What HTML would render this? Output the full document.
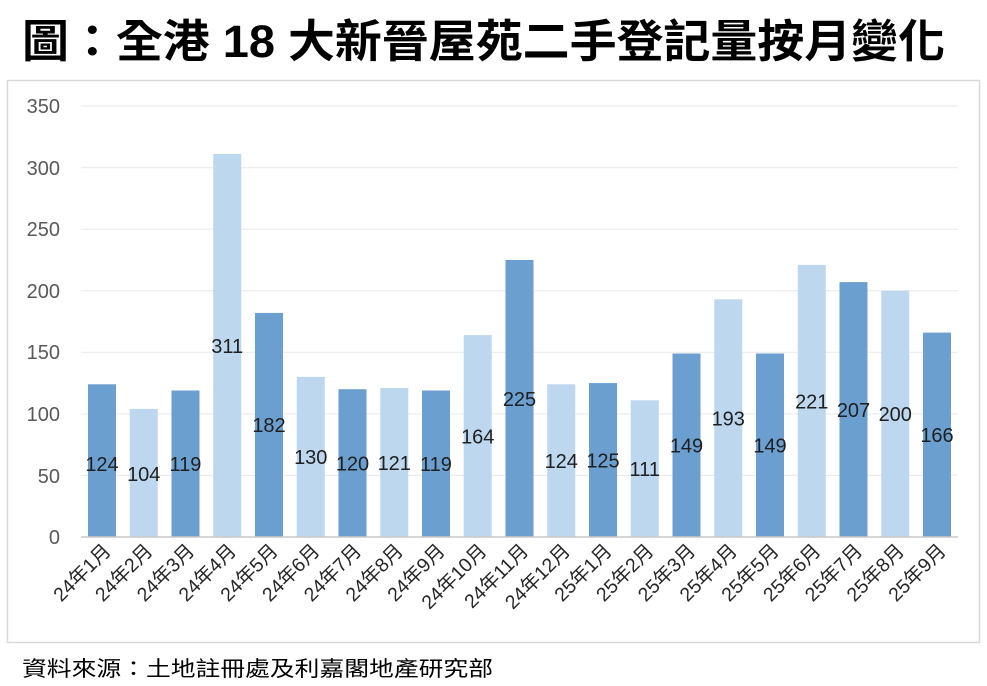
<!DOCTYPE html>
<html><head><meta charset="utf-8"><style>
html,body{margin:0;padding:0;background:#fff;}
svg{display:block;}
</style></head><body>
<svg width="987" height="686" viewBox="0 0 987 686" xmlns="http://www.w3.org/2000/svg" font-family="'Liberation Sans','Noto Sans CJK TC',sans-serif">
<rect width="987" height="686" fill="#fff"/>
<text x="22" y="57" font-size="45" font-weight="bold" fill="#000" textLength="923" lengthAdjust="spacingAndGlyphs">圖：全港 18 大新晉屋苑二手登記量按月變化</text>
<rect x="7.5" y="80.5" width="972" height="562" fill="#fff" stroke="#d9d9d9" stroke-width="1.5"/>
<g stroke="#ececec" stroke-width="1.2">
<line x1="81" x2="958" y1="106" y2="106"/><line x1="81" x2="958" y1="167.6" y2="167.6"/><line x1="81" x2="958" y1="229.1" y2="229.1"/><line x1="81" x2="958" y1="290.7" y2="290.7"/><line x1="81" x2="958" y1="352.3" y2="352.3"/><line x1="81" x2="958" y1="413.9" y2="413.9"/><line x1="81" x2="958" y1="475.4" y2="475.4"/>
</g>
<g font-size="20" fill="#595959" text-anchor="end">
<text x="60" y="113">350</text><text x="60" y="175">300</text><text x="60" y="236">250</text><text x="60" y="298">200</text><text x="60" y="359">150</text><text x="60" y="421">100</text><text x="60" y="483">50</text><text x="60" y="544">0</text>
</g>
<g>
<rect x="88" y="384.3" width="28" height="152.7" fill="#6b9fd0"/>
<rect x="129.75" y="408.9" width="28" height="128.1" fill="#bdd7ee"/>
<rect x="171.5" y="390.5" width="28" height="146.5" fill="#6b9fd0"/>
<rect x="213.25" y="154" width="28" height="383" fill="#bdd7ee"/>
<rect x="255" y="312.9" width="28" height="224.1" fill="#6b9fd0"/>
<rect x="296.75" y="376.9" width="28" height="160.1" fill="#bdd7ee"/>
<rect x="338.5" y="389.2" width="28" height="147.8" fill="#6b9fd0"/>
<rect x="380.25" y="388" width="28" height="149" fill="#bdd7ee"/>
<rect x="422" y="390.5" width="28" height="146.5" fill="#6b9fd0"/>
<rect x="463.75" y="335.1" width="28" height="201.9" fill="#bdd7ee"/>
<rect x="505.5" y="259.9" width="28" height="277.1" fill="#6b9fd0"/>
<rect x="547.25" y="384.3" width="28" height="152.7" fill="#bdd7ee"/>
<rect x="589" y="383.1" width="28" height="153.9" fill="#6b9fd0"/>
<rect x="630.75" y="400.3" width="28" height="136.7" fill="#bdd7ee"/>
<rect x="672.5" y="353.5" width="28" height="183.5" fill="#6b9fd0"/>
<rect x="714.25" y="299.3" width="28" height="237.7" fill="#bdd7ee"/>
<rect x="756" y="353.5" width="28" height="183.5" fill="#6b9fd0"/>
<rect x="797.75" y="264.9" width="28" height="272.1" fill="#bdd7ee"/>
<rect x="839.5" y="282.1" width="28" height="254.9" fill="#6b9fd0"/>
<rect x="881.25" y="290.7" width="28" height="246.3" fill="#bdd7ee"/>
<rect x="923" y="332.6" width="28" height="204.4" fill="#6b9fd0"/>
</g>
<g font-size="20" fill="#1f1f1f" text-anchor="middle">
<text x="102" y="471">124</text>
<text x="143.75" y="481">104</text>
<text x="185.5" y="471">119</text>
<text x="227.25" y="353">311</text>
<text x="269" y="432">182</text>
<text x="310.75" y="464">130</text>
<text x="352.5" y="470.5">120</text>
<text x="394.25" y="470">121</text>
<text x="436" y="471">119</text>
<text x="477.75" y="443.5">164</text>
<text x="519.5" y="406">225</text>
<text x="561.25" y="468">124</text>
<text x="603" y="467.5">125</text>
<text x="644.75" y="476">111</text>
<text x="686.5" y="452.5">149</text>
<text x="728.25" y="425.5">193</text>
<text x="770" y="452.5">149</text>
<text x="811.75" y="408.5">221</text>
<text x="853.5" y="417">207</text>
<text x="895.25" y="421">200</text>
<text x="937" y="442">166</text>
</g>
<g font-size="19.5" fill="#262626" text-anchor="end">
<text transform="translate(112,552) rotate(-45)">24年1月</text>
<text transform="translate(153.75,552) rotate(-45)">24年2月</text>
<text transform="translate(195.5,552) rotate(-45)">24年3月</text>
<text transform="translate(237.25,552) rotate(-45)">24年4月</text>
<text transform="translate(279,552) rotate(-45)">24年5月</text>
<text transform="translate(320.75,552) rotate(-45)">24年6月</text>
<text transform="translate(362.5,552) rotate(-45)">24年7月</text>
<text transform="translate(404.25,552) rotate(-45)">24年8月</text>
<text transform="translate(446,552) rotate(-45)">24年9月</text>
<text transform="translate(487.75,552) rotate(-45)">24年10月</text>
<text transform="translate(529.5,552) rotate(-45)">24年11月</text>
<text transform="translate(571.25,552) rotate(-45)">24年12月</text>
<text transform="translate(613,552) rotate(-45)">25年1月</text>
<text transform="translate(654.75,552) rotate(-45)">25年2月</text>
<text transform="translate(696.5,552) rotate(-45)">25年3月</text>
<text transform="translate(738.25,552) rotate(-45)">25年4月</text>
<text transform="translate(780,552) rotate(-45)">25年5月</text>
<text transform="translate(821.75,552) rotate(-45)">25年6月</text>
<text transform="translate(863.5,552) rotate(-45)">25年7月</text>
<text transform="translate(905.25,552) rotate(-45)">25年8月</text>
<text transform="translate(947,552) rotate(-45)">25年9月</text>
</g>
<line x1="81" x2="958" y1="537" y2="537" stroke="#c8c8c8" stroke-width="1.5"/>
<text x="22" y="676" font-size="21" fill="#000" textLength="471" lengthAdjust="spacingAndGlyphs">資料來源：土地註冊處及利嘉閣地產研究部</text>
</svg>
</body></html>
